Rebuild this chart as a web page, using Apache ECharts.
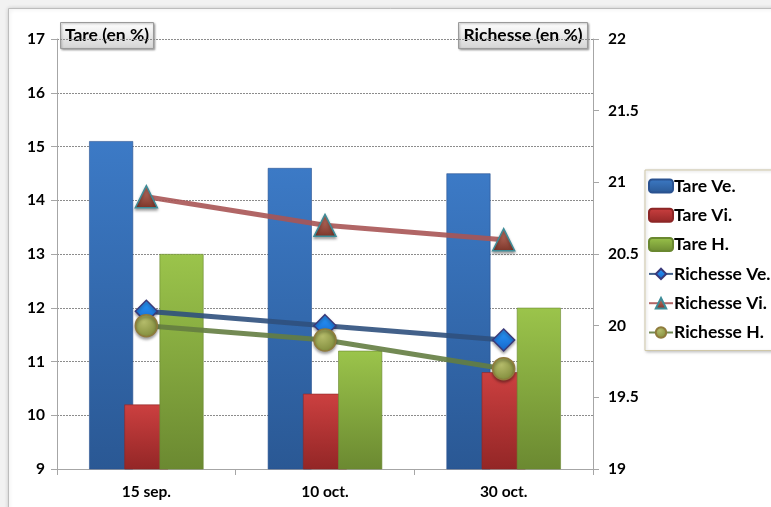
<!DOCTYPE html>
<html>
<head>
<meta charset="utf-8">
<script src="https://cdn.jsdelivr.net/npm/echarts@6/dist/echarts.min.js"></script>
<style>
  html, body { margin: 0; padding: 0; background: #f2f2f2; }
  #chart { width: 771px; height: 507px; }
</style>
</head>
<body>
<div id="chart"></div>
<script>
// Sampling dates
const categories = ['15 sep.', '10 oct.', '30 oct.'];

// Tare (left axis, %)
const tareVe = [15.1, 14.6, 14.5];
const tareVi = [10.2, 10.4, 10.8];
const tareH = [13.0, 11.2, 12.0];

// Richesse (right axis, %)
const richesseVe = [20.1, 20.0, 19.9];
const richesseVi = [20.9, 20.7, 20.6];
const richesseH = [20.0, 19.9, 19.7];

const FONT = 'Lato, "Open Sans", sans-serif';

function vGrad(top, bottom) {
  return new echarts.graphic.LinearGradient(0, 0, 0, 1, [
    { offset: 0, color: top },
    { offset: 1, color: bottom }
  ]);
}

const blueFill = vGrad('#3c7ac6', '#2a5894');
const redFill = vGrad('#cc4040', '#932626');
const greenFill = vGrad('#9bc44b', '#6b8931');

function barSeries(name, data, fill, edge) {
  return {
    name: name,
    type: 'bar',
    yAxisIndex: 0,
    data: data,
    barWidth: 44,
    barGap: '-20%',
    itemStyle: { color: fill, borderColor: edge, borderWidth: 0.6 }
  };
}

function lineSeries(name, data, lineColor, symbol, size, fill, border) {
  return {
    name: name,
    type: 'line',
    yAxisIndex: 1,
    data: data,
    symbol: symbol,
    symbolSize: size,
    z: 5,
    lineStyle: { color: lineColor, width: 5 },
    itemStyle: {
      color: fill,
      borderColor: border,
      borderWidth: 1.5,
      shadowColor: 'rgba(0,0,0,0.35)',
      shadowBlur: 3,
      shadowOffsetY: 2
    }
  };
}

const diamondFill = vGrad('#2a9bff', '#1565c8');
const triFill = vGrad('#c87a6c', '#7a3428');
const circleFill = new echarts.graphic.RadialGradient(0.4, 0.35, 0.7, [
  { offset: 0, color: '#b4bb6a' },
  { offset: 1, color: '#7f8a3a' }
]);

function titleBox(x, w, label) {
  return {
    type: 'group',
    left: x,
    top: 22,
    children: [
      {
        type: 'rect',
        shape: { x: 0, y: 0, width: w, height: 26 },
        style: {
          fill: vGrad('#ffffff', '#d4d4d4'),
          stroke: '#9a9a9a',
          lineWidth: 1,
          shadowColor: 'rgba(0,0,0,0.3)',
          shadowBlur: 2,
          shadowOffsetX: 1,
          shadowOffsetY: 1
        }
      },
      {
        type: 'text',
        x: w / 2,
        y: 13,
        style: {
          text: label,
          font: 'bold 17.5px ' + FONT,
          fill: '#000',
          align: 'center',
          verticalAlign: 'middle'
        }
      }
    ]
  };
}

const tickLabel = {
  fontFamily: FONT,
  fontWeight: 'bold',
  fontSize: 15.5,
  color: '#000'
};

const chart = echarts.init(document.getElementById('chart'), null, { renderer: 'canvas' });

chart.setOption({
  animation: false,
  backgroundColor: '#f2f2f2',
  textStyle: { fontFamily: FONT },
  graphic: [
    {
      type: 'rect',
      left: 8,
      top: 8,
      z: -10,
      shape: { width: 800, height: 600 },
      style: {
        fill: '#ffffff',
        stroke: '#bdbdbd',
        lineWidth: 1,
        shadowColor: 'rgba(0,0,0,0.18)',
        shadowBlur: 4
      }
    },
    titleBox(60, 93, 'Tare (en %)'),
    titleBox(458, 129, 'Richesse (en %)')
  ],
  grid: { left: 57, right: 178, top: 39, bottom: 38, containLabel: false },
  legend: {
    orient: 'vertical',
    left: 645,
    top: 170,
    padding: [6, 30, 8, 3],
    backgroundColor: '#ffffff',
    borderColor: '#cfc7a8',
    borderWidth: 1,
    shadowColor: 'rgba(0,0,0,0.2)',
    shadowBlur: 3,
    shadowOffsetX: 1,
    shadowOffsetY: 1,
    itemWidth: 24,
    itemHeight: 13,
    itemGap: 9.3,
    textStyle: {
      fontFamily: FONT,
      fontWeight: 'bold',
      fontSize: 17.5,
      color: '#000',
      padding: [0, 0, 0, -4],
      lineHeight: 20
    },
    data: ['Tare Ve.', 'Tare Vi.', 'Tare H.', 'Richesse Ve.', 'Richesse Vi.', 'Richesse H.']
  },
  xAxis: {
    type: 'category',
    data: categories,
    boundaryGap: true,
    axisLine: { lineStyle: { color: '#a6a6a6', width: 1 } },
    axisTick: { show: true, length: 6, lineStyle: { color: '#a6a6a6' } },
    axisLabel: Object.assign({ margin: 15 }, tickLabel)
  },
  yAxis: [
    {
      type: 'value',
      min: 9,
      max: 17,
      interval: 1,
      position: 'left',
      axisLine: { show: true, lineStyle: { color: '#a6a6a6' } },
      axisTick: { show: true, length: 6, lineStyle: { color: '#a6a6a6' } },
      axisLabel: Object.assign({ margin: 12 }, tickLabel),
      splitLine: { show: true, lineStyle: { color: '#8c8c8c', type: [2, 1], width: 1 } }
    },
    {
      type: 'value',
      min: 19,
      max: 22,
      interval: 0.5,
      position: 'right',
      axisLine: { show: true, lineStyle: { color: '#a6a6a6' } },
      axisTick: { show: true, length: 6, lineStyle: { color: '#a6a6a6' } },
      axisLabel: Object.assign({ margin: 15 }, tickLabel),
      splitLine: { show: false }
    }
  ],
  series: [
    barSeries('Tare Ve.', tareVe, blueFill, '#2a5290'),
    barSeries('Tare Vi.', tareVi, redFill, '#8c2626'),
    barSeries('Tare H.', tareH, greenFill, '#6a8830'),
    lineSeries('Richesse Ve.', richesseVe, 'rgba(47,80,125,0.9)', 'diamond', 22, diamondFill, '#3a3a7a'),
    lineSeries('Richesse Vi.', richesseVi, 'rgba(168,85,85,0.9)', 'triangle', 22, triFill, '#3d8c98'),
    lineSeries('Richesse H.', richesseH, 'rgba(100,125,65,0.9)', 'circle', 22, circleFill, '#8f7b3c')
  ]
});
</script>
</body>
</html>
